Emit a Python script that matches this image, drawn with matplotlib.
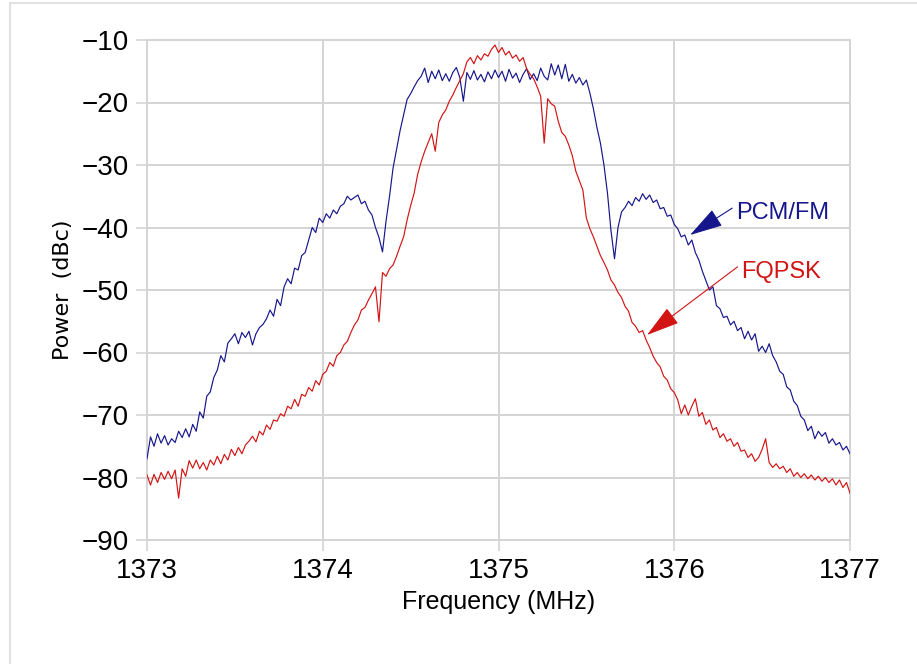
import numpy as np
import matplotlib
matplotlib.use('Agg')
import matplotlib.pyplot as plt
from matplotlib.lines import Line2D

# frequency grid of the traces (MHz), one point every 0.02 MHz
freq_start = 1373.0
freq_step = 0.02

# PCM/FM spectrum (dBc)
pcm_fm = [
    -77, -73.5, -75, -73, -74.5, -73.3, -74.8, -73.8, -74.4, -72.6,
    -73.6, -72.2, -73.5, -71.5, -72.6, -69.5, -70.5, -67, -66.3, -64,
    -62.8, -60.5, -61.5, -58.5, -57.8, -57, -58.6, -56.8, -57.6, -56.6,
    -58.8, -57, -56, -55.5, -54.6, -53.2, -54.2, -51.5, -52.5, -49.5,
    -48.2, -49, -46.5, -46.8, -44.5, -44, -42, -40, -40.8, -38.5,
    -39.2, -37.8, -38.5, -37.2, -37.8, -36.6, -36.2, -35, -35.6, -35.2,
    -34.8, -36.2, -35.8, -37.2, -38, -40, -41.6, -43.9, -39, -35,
    -30.5, -27.5, -24.5, -22, -19.5, -18.6, -17.5, -16.5, -15.8, -14.5,
    -16.8, -15, -16.2, -14.8, -16.5, -15.4, -16.6, -15.2, -14.4, -16,
    -19.8, -15.2, -16.3, -14.9, -16.4, -15.5, -16.7, -15.1, -16.2, -14.8,
    -16, -15, -16.6, -14.7, -16.1, -15.3, -16.8, -15.5, -14.6, -16.3,
    -15.4, -16.5, -14.5, -15.8, -16.4, -13.8, -15.6, -14, -16.2, -13.9,
    -16.6, -15.5, -16.9, -16, -17.2, -16.4, -18.5, -21, -24, -26.5,
    -30, -34.5, -40.5, -45, -40, -37.5, -36.8, -35.8, -36.5, -35.2,
    -35.8, -34.6, -35.5, -34.8, -36, -35.6, -37, -36.8, -38.2, -38,
    -39.5, -40.2, -41.5, -41.2, -42.8, -42, -44, -45.2, -47, -48.5,
    -50, -49.5, -52.5, -53, -54.4, -54.2, -55.6, -55, -56.5, -56,
    -57.8, -56.6, -58, -57, -59.8, -59, -60, -58.6, -60.5, -61.5,
    -63, -63.5, -65.5, -66, -67.8, -68.5, -70.2, -70.8, -72.5, -71.8,
    -73.8, -72.6, -73.4, -72.8, -74.5, -73.8, -74.8, -74.4, -75.6, -75,
    -76.2,
]

# FQPSK spectrum (dBc)
fqpsk = [
    -79.6, -81.2, -79.5, -80.8, -79.2, -80.3, -79, -80.2, -78.8, -83.3,
    -78.6, -79.8, -77.3, -78.5, -77.2, -78.6, -77.6, -78.8, -77.2, -78,
    -76.6, -77.8, -76.3, -77.2, -75.5, -76.5, -75.2, -76.2, -74.8, -74.2,
    -73.4, -74.3, -72.6, -73.2, -71.6, -72.3, -70.8, -71, -69.8, -70.2,
    -68.6, -69, -67.5, -68.6, -66.7, -67, -65.6, -66.2, -64.5, -65.2,
    -63.5, -63, -61.6, -62.2, -60.5, -60, -58.8, -58.2, -56.8, -55.6,
    -54.8, -53.2, -52.8, -51.6, -50.6, -49.5, -55.1, -47.2, -47.8, -46.6,
    -46, -44.6, -43, -41.5, -38.8, -36.5, -34.5, -31.5, -29.5, -27.8,
    -26.4, -25, -27.8, -23.2, -22, -21.2, -19.8, -18.8, -17.6, -16.5,
    -15.4, -13.5, -12.8, -13.8, -12.5, -13.2, -12.2, -12.6, -11.5, -10.8,
    -12, -11.2, -12.4, -11.8, -12.9, -12.4, -13.4, -12.8, -14.6, -15.5,
    -16.2, -17.5, -19, -26.5, -19.4, -20.2, -20.6, -23, -24.8, -25.4,
    -26.8, -28.5, -31, -32.5, -34, -38.5, -40.2, -41.5, -43, -44.5,
    -45.6, -46.8, -48.4, -49.2, -50.4, -51.2, -52.6, -53.4, -55.2, -55.8,
    -56.8, -56.5, -58, -59.2, -60.6, -61.6, -62.3, -63.8, -64.4, -65.8,
    -66.4, -67.6, -69.8, -68.4, -70, -68.6, -67.4, -70.2, -69.6, -71.5,
    -70.8, -72.4, -72, -73.6, -73, -74.2, -73.8, -75, -74.4, -75.8,
    -75.6, -76.8, -76.2, -77.4, -76.8, -75.5, -73.8, -77.6, -78.4, -77.8,
    -78.6, -78.2, -79.2, -78.6, -79.8, -79.2, -80, -79.4, -80.2, -79.6,
    -80.4, -79.8, -80.6, -80, -80.8, -80.2, -81.2, -80.4, -81.6, -80.8,
    -82.5,
]

x_ticks = [1373, 1374, 1375, 1376, 1377]
y_ticks = [-10, -20, -30, -40, -50, -60, -70, -80, -90]

# annotation positions (text anchor, arrow tip) in data units
pcm_label = ("PCM/FM", 1376.35, -37.7, 1376.09, -41.2)
fqpsk_label = ("FQPSK", 1376.38, -47.1, 1375.845, -57.2)

BLUE = '#16168c'
RED = '#d21414'
GRID = '#d4d4d4'
SANS = ['Liberation Sans', 'DejaVu Sans']

freq = freq_start + freq_step * np.arange(len(pcm_fm))

fig = plt.figure(figsize=(9.17, 6.64), dpi=100)
ax = fig.add_axes([147 / 917, 1 - 540 / 664, 703 / 917, 500 / 664])

ax.plot(freq, pcm_fm, color=BLUE, lw=0.85, zorder=3)
ax.plot(freq, fqpsk, color=RED, lw=0.85, zorder=3)

ax.set_xlim(1373, 1377)
ax.set_ylim(-90, -10)
ax.set_xticks(x_ticks)
ax.set_yticks(y_ticks)
ax.grid(True, color=GRID, lw=1.4)
ax.set_axisbelow(True)
for s in ax.spines.values():
    s.set_color(GRID)
    s.set_linewidth(1.4)

ax.tick_params(axis='both', direction='out', length=8, width=1.2, color=GRID)
ax.tick_params(axis='y', pad=5)
ax.tick_params(axis='x', pad=5)
for lbl in ax.get_xticklabels():
    lbl.set_family(SANS)
    lbl.set_fontsize(20)
for lbl in ax.get_yticklabels():
    lbl.set_family(SANS)
    lbl.set_fontsize(20)

ax.set_xlabel("Frequency (MHz)", family=SANS, fontsize=18, labelpad=4)
ax.set_ylabel("Power  (dBc)", family='DejaVu Sans', fontsize=16, labelpad=6)

for (txt, tx, ty, ax_, ay_), col in [(pcm_label, BLUE), (fqpsk_label, RED)]:
    ax.text(tx, ty, txt, color=col, family=SANS, fontsize=17,
            ha='left', va='center')
    ax.annotate("", xy=(ax_, ay_), xytext=(tx - 0.02, ty + 0.8),
                arrowprops=dict(arrowstyle='-|>,head_length=2.1,head_width=0.6',
                                color=col, lw=0.8, shrinkA=0, shrinkB=0))

# faint page border on the left and top
fig.add_artist(Line2D([10 / 917, 10 / 917], [0, 1 - 3 / 664],
                      transform=fig.transFigure, color='#dcdcdc', lw=1.2))
fig.add_artist(Line2D([10 / 917, 1], [1 - 3 / 664, 1 - 3 / 664],
                      transform=fig.transFigure, color='#dcdcdc', lw=1.2))

fig.savefig('out.png', dpi=100)
